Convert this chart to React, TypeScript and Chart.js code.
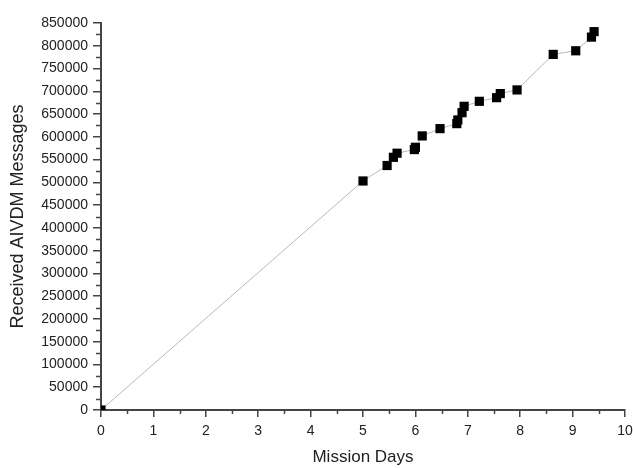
import React, { useEffect, useRef } from "react";
import { Chart, registerables } from "chart.js";

Chart.register(...registerables);

const missionDays: number[] = [0, 5.0, 5.46, 5.58, 5.65, 5.98, 6.0, 6.13, 6.47, 6.79, 6.81, 6.89, 6.93, 7.22, 7.55, 7.62, 7.94, 8.63, 9.06, 9.36, 9.41];
const receivedMessages: number[] = [0, 503000, 537000, 555000, 564000, 572000, 577000, 602000, 618000, 629000, 637000, 653000, 667000, 678000, 686000, 695000, 703000, 781000, 789000, 819000, 831000];
const xTitle = "Mission Days";
const yTitle = "Received AIVDM Messages";
const xMin = 0, xMax = 10, xStep = 1;
const yMin = 0, yMax = 850000, yStep = 50000;

const FONT = "'Liberation Sans', Arial, sans-serif";
const AXIS = "#444";
const TEXT = "#222";

const minorTicks = {
  id: "minorTicks",
  afterDraw(chart: any) {
    const { ctx, chartArea, scales } = chart;
    const xs = scales.x, ys = scales.y;
    ctx.save();
    ctx.strokeStyle = AXIS;
    ctx.lineWidth = 1.5;
    ctx.beginPath();
    for (let v = xMin + xStep / 2; v < xMax; v += xStep) {
      const px = Math.round(xs.getPixelForValue(v)) + 0.5;
      ctx.moveTo(px, chartArea.bottom);
      ctx.lineTo(px, chartArea.bottom + 4);
    }
    for (let v = yMin + yStep / 2; v < yMax; v += yStep) {
      const py = Math.round(ys.getPixelForValue(v)) + 0.5;
      ctx.moveTo(chartArea.left - 5, py);
      ctx.lineTo(chartArea.left, py);
    }
    ctx.stroke();
    ctx.restore();
  },
};

export default function App() {
  const ref = useRef<HTMLCanvasElement | null>(null);
  useEffect(() => {
    if (!ref.current) return;
    const points = missionDays.map((d, i) => ({ x: d, y: receivedMessages[i] }));
    const chart = new Chart(ref.current, {
      type: "scatter",
      data: {
        datasets: [
          {
            data: points,
            showLine: true,
            borderColor: "#b8b8b8",
            borderWidth: 1,
            tension: 0,
            pointStyle: "rect",
            pointRadius: 6.5,
            pointHoverRadius: 6.5,
            pointBackgroundColor: "#000",
            pointBorderWidth: 0,
            clip: 0,
          } as any,
        ],
      },
      options: {
        responsive: false,
        animation: false,
        devicePixelRatio: 1,
        layout: { padding: { left: 0, top: 23, right: 8, bottom: 0 } },
        plugins: { legend: { display: false }, tooltip: { enabled: false } },
        scales: {
          x: {
            type: "linear",
            min: xMin,
            max: xMax,
            afterFit: (s: any) => { s.height = 58; s.paddingLeft = 0; s.paddingRight = 0; },
            ticks: {
              stepSize: xStep,
              color: TEXT,
              font: { family: FONT, size: 14 },
              padding: 6,
              maxRotation: 0,
            },
            grid: { drawOnChartArea: false, drawTicks: true, tickLength: 7, color: AXIS, lineWidth: 1.5 },
            border: { display: true, color: AXIS, width: 2 },
            title: { display: true, text: xTitle, color: TEXT, font: { family: FONT, size: 17 }, padding: { top: 0, bottom: 0 } },
          },
          y: {
            type: "linear",
            min: yMin,
            max: yMax,
            afterFit: (s: any) => { s.width = 101; s.paddingTop = 0; s.paddingBottom = 0; },
            ticks: {
              stepSize: yStep,
              color: TEXT,
              font: { family: FONT, size: 14 },
              padding: 5,
              autoSkip: false,
              callback: (v: any) => String(v),
            },
            grid: { drawOnChartArea: false, drawTicks: true, tickLength: 8, color: AXIS, lineWidth: 1.5 },
            border: { display: true, color: AXIS, width: 2 },
            title: { display: true, text: yTitle, color: TEXT, font: { family: FONT, size: 18 }, padding: { top: 7, bottom: 0 } },
          },
        },
      },
      plugins: [minorTicks],
    });
    return () => chart.destroy();
  }, []);
  return (
    <div style={{ position: "absolute", left: 0, top: 0, width: 633, height: 468, background: "#fff" }}>
      <canvas ref={ref} width={633} height={468} />
    </div>
  );
}
